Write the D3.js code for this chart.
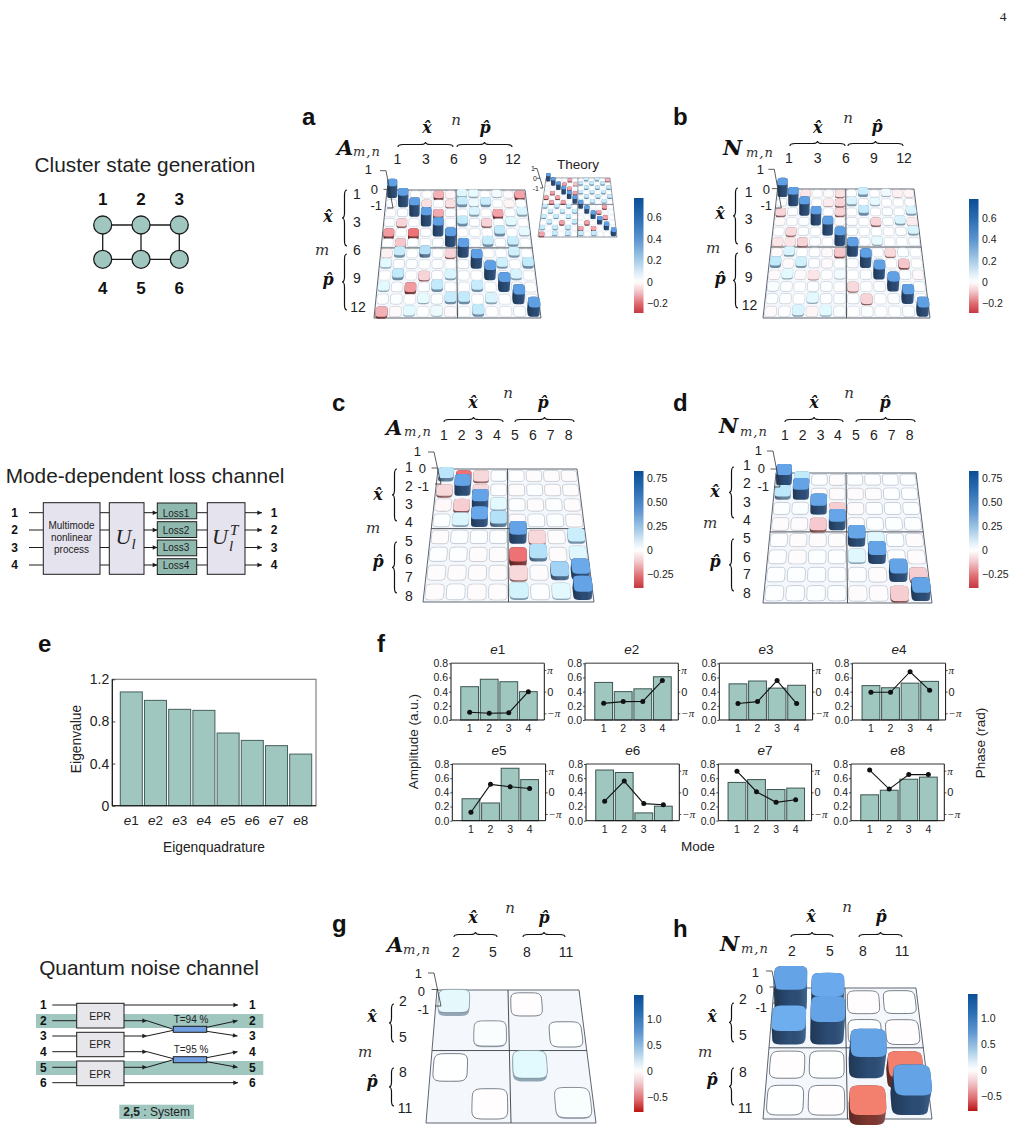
<!DOCTYPE html>
<html><head><meta charset="utf-8">
<script src="https://cdn.jsdelivr.net/npm/d3@7"></script>
<style>
html,body{margin:0;padding:0;background:#fff}
svg{display:block}
text{font-family:"Liberation Sans",Arial,sans-serif;fill:#222}
</style></head><body><svg id="fig" width="1014" height="1132"></svg>
<script>
// ---------- matrix elements (rows m, columns n) ----------
const matA12 = [
 [.6,.01,0,0,-.13,-.02,.09,.07,0,.05,-.01,-.15],
 [.01,.6,.01,-.06,0,-.06,.14,.06,.13,0,-.02,.01],
 [0,.01,.6,0,-.14,.01,0,.1,0,-.15,.01,.1],
 [.01,-.08,0,.6,-.01,0,.15,.01,-.08,0,.08,0],
 [-.16,0,-.22,.01,.6,.01,0,0,0,.15,0,.07],
 [0,-.1,.01,0,.01,.6,0,0,.14,.01,.13,0],
 [-.03,.14,0,.19,0,-.08,.6,.02,0,0,.12,0],
 [.08,.01,.01,0,.01,0,.01,.6,.01,.12,0,.15],
 [0,.15,0,-.08,.01,.1,0,0,.6,.01,.1,0],
 [.08,.01,-.16,.01,.15,.01,0,.14,0,.6,.01,0],
 [.01,.01,0,.07,.01,.14,.15,0,.1,0,.6,0],
 [-.13,-.01,.08,0,.06,-.01,0,.15,0,0,.01,.6]];
const matTheory = [
 [.6,0,0,0,-.15,0,0,.14,0,.14,0,-.12],
 [0,.6,0,-.15,0,-.1,.14,0,.14,0,.14,0],
 [0,0,.6,0,-.15,0,0,.14,0,.14,0,.14],
 [0,-.15,0,.6,0,-.15,.14,0,.14,0,.14,0],
 [-.15,0,-.15,0,.6,0,0,.14,0,.14,0,.14],
 [0,-.15,0,-.15,0,.6,.14,0,.14,0,.14,0],
 [.14,0,.14,0,.14,0,.6,0,0,0,-.15,0],
 [0,.14,0,.14,0,.14,0,.6,0,-.15,0,0],
 [.14,0,.14,0,.14,0,0,0,.6,0,-.15,0],
 [0,.14,0,-.15,0,.14,0,-.15,0,.6,0,0],
 [.14,0,.14,0,.14,0,-.15,0,-.15,0,.6,0],
 [-.15,0,.14,0,.14,0,.14,0,.14,0,0,.6]];
const matN12 = [
 [.6,.01,-.05,0,-.01,-.06,.01,.13,0,.05,-.03,-.02],
 [.01,.6,0,0,-.04,-.08,.1,.01,.07,0,0,.01],
 [-.08,.01,.6,0,.01,-.08,0,.15,0,.01,0,.1],
 [-.01,0,.01,.6,0,-.01,.01,0,-.08,.01,.1,-.04],
 [0,-.07,.01,0,.6,0,.01,0,0,0,.01,.1],
 [-.05,-.05,-.08,.01,0,.6,0,.01,.07,0,0,.01],
 [-.01,.1,0,.01,-.01,-.1,.6,0,0,-.07,.01,0],
 [.15,-.01,.12,.01,-.01,0,.01,.6,.01,0,-.1,0],
 [-.01,.08,-.01,-.05,0,.05,0,.01,.6,0,.01,-.01],
 [.03,.01,0,.01,.01,0,-.07,0,.01,.6,0,.01],
 [.01,.01,0,.08,.01,.01,.01,-.08,0,.01,.6,0],
 [-.01,.01,.1,-.02,.08,.01,0,.01,0,0,.01,.6]];
const matA8 = [
 [.18,-.3,-.1,.01,0,-.01,-.01,-.01],
 [-.1,.55,-.1,.01,-.01,.01,-.01,-.01],
 [-.02,-.12,.55,.08,.01,-.01,.01,-.01],
 [.01,.1,.45,.2,-.01,.01,.01,-.01],
 [-.01,.01,.01,.01,.55,-.1,-.01,.14],
 [.01,.01,-.01,-.01,-.3,.2,-.01,.09],
 [-.01,-.01,-.01,-.01,-.1,-.01,.25,.42],
 [-.01,.01,-.01,-.01,.12,.01,.08,.55]];
const matN8 = [
 [.55,.16,.01,-.01,.01,.01,.01,.01],
 [.17,.55,-.01,-.01,-.01,-.01,.01,.01],
 [.01,.02,.5,-.12,-.01,.01,.01,.01],
 [-.01,-.01,-.13,.5,-.01,.01,.01,.01],
 [.01,-.01,-.01,-.01,.5,.09,.01,-.01],
 [.01,-.01,.01,.01,.09,.55,.01,-.01],
 [.01,.01,.01,.01,.01,-.01,.55,-.12],
 [.01,.01,.01,.01,-.01,-.01,-.12,.55]];
const matA4 = [
 [.14,null,-.01,null],
 [null,.05,null,.01],
 [.01,null,.15,null],
 [null,-.01,null,.06]];
const matN4 = [
 [1.0,.72,-.01,.005],
 [.6,1.0,.005,-.01],
 [-.01,.005,1.0,-.5],
 [.005,-.01,-.5,1.0]];

// ---------- eigenvalues and eigenvectors ----------
const eigenNames = ["e1","e2","e3","e4","e5","e6","e7","e8"];
const eigenValues = [1.08,1.0,.915,.905,.69,.62,.57,.49];
const modes = [1,2,3,4];
const amp = {
 e1:[.47,.575,.54,.40], e2:[.53,.40,.44,.61], e3:[.51,.55,.45,.49], e4:[.485,.455,.52,.545],
 e5:[.31,.25,.74,.58], e6:[.715,.68,.11,.205], e7:[.54,.58,.44,.46], e8:[.365,.43,.585,.615]};
// phase in units of pi
const phase = {
 e1:[-.95,-1,-.98,0], e2:[-.54,-.46,-.45,.51], e3:[-.55,-.46,.51,-.55], e4:[-.03,-.03,.92,.06],
 e5:[-.92,.37,.26,.18], e6:[-.41,.52,-.52,-.57], e7:[.98,.03,-.46,-.34], e8:[1.03,.15,.82,.82]};

const svg = d3.select("#fig");
const SANS = '"Liberation Sans",Arial,sans-serif', SERIF = '"Liberation Serif",serif', MATH = '"DejaVu Serif",serif';

function label(x,y,s,o={}){
  const t = svg.append("text").attr("x",x).attr("y",y).text(s)
    .attr("font-size",o.size||13).attr("text-anchor",o.anchor||"middle")
    .style("font-family",o.family||SANS).style("font-weight",o.weight||"normal")
    .style("font-style",o.style||"normal").style("fill",o.fill||"#222");
  if(o.rot) t.attr("transform",`rotate(${o.rot} ${x} ${y})`);
  if(o.ls) t.style("letter-spacing",o.ls);
  return t;
}
const TEAL = "#9fc6bf", INK = "#1c1c1c";

// shading for the bar sides, dark on the left
const defs = svg.append("defs");
const sg = defs.append("linearGradient").attr("id","sideShade");
sg.append("stop").attr("offset","0").attr("stop-color","#000").attr("stop-opacity",.28);
sg.append("stop").attr("offset","0.55").attr("stop-color","#000").attr("stop-opacity",0);
sg.append("stop").attr("offset","1").attr("stop-color","#9fd0ff").attr("stop-opacity",.2);

// colours of the bar tops, by value relative to the colour bar limits
const capPos = d3.scaleLinear().domain([0,.05,.1,.2,.3,.4,.78,1])
  .range(["#ffffff","#f6fcfe","#e3f9fd","#bfe9fb","#a5d5f4","#6eaeef","#5f9fe3","#3a80cf"]).clamp(true);
const capNeg = d3.scaleLinear().domain([0,.15,.3,.5,.65,.8,1])
  .range(["#ffffff","#fbeaec","#f6d0d4","#f2a6ac","#f08489","#ed6d70","#d84046"]).clamp(true);
const capColor = (v,p)=> v>=0 ? capPos(v/p.cmax)
  : (p.warm && v/p.cmin>.4 ? d3.interpolateRgb(capNeg(v/p.cmin),"#f47f68")(.85) : capNeg(v/p.cmin));

function drawMatrix(p){
  const n = p.data.length;
  const w = (p.br[0]-p.bl[0])/(p.tr[0]-p.tl[0]);
  const col = d3.scaleLinear().domain([0,n]).range([0,1]);
  const row = d3.scaleLinear().domain([0,n]).range([0,1]);
  const fy = t=> t/(t+(1-t)*w);
  const zs = d3.scaleLinear().domain([0,1]).range([0,p.zs]);
  const project = (u,t,z=0)=>{
    const f = fy(t);
    const L = p.tl[0]+(p.bl[0]-p.tl[0])*f, R = p.tr[0]+(p.br[0]-p.tr[0])*f;
    const h = zs(z)*(1-.22*f);
    return [L+(R-L)*u + h*p.skew*(u-.2), p.tl[1]+(p.bl[1]-p.tl[1])*f - h];
  };
  const outline = (i,j,z)=>{
    const pts = [], e = 2/(p.round||4.5);
    for(let k=0;k<40;k++){
      const a = k/40*2*Math.PI, c = Math.cos(a), s = Math.sin(a);
      const du = Math.sign(c)*Math.pow(Math.abs(c),e)*p.uf/2, dv = Math.sign(s)*Math.pow(Math.abs(s),e)*p.vf/2;
      pts.push(project(col(j+.5+du),row(i+.5+dv),z));
    }
    return pts;
  };
  const closed = d3.line().curve(d3.curveLinearClosed);
  const g = svg.append("g");
  g.append("path").attr("d",closed([project(0,0),project(1,0),project(1,1),project(0,1)]))
    .attr("fill","#f4f7fb").attr("stroke","#4d5560").attr("stroke-width",p.edge||.9);
  [[[.5,0],[.5,1]],[[0,.5],[1,.5]]].forEach(s=>g.append("line")
    .attr("x1",project(...s[0])[0]).attr("y1",project(...s[0])[1])
    .attr("x2",project(...s[1])[0]).attr("y2",project(...s[1])[1])
    .attr("stroke","#3a3f46").attr("stroke-width",p.edge||.9));
  p.data.forEach((rowVals,i)=>rowVals.forEach((v,j)=>{
    if(v===null) return;
    const cap = capColor(v,p);
    const zTop = Math.max(v,0), zBot = Math.min(v,0);
    const r = v>=0 ? v/p.cmax : v/p.cmin;
    if(zTop-zBot>.004){
      const hull = closed(d3.polygonHull(outline(i,j,zTop).concat(outline(i,j,zBot))));
      const side = d3.interpolateRgb(cap, v>=0?"#1a3050":"#5a1f1a")(Math.min(.75,.3+r*1.1));
      g.append("path").attr("d",hull).attr("fill",side);
      if(r>.2) g.append("path").attr("d",hull).attr("fill","url(#sideShade)");
    }
    g.append("path").attr("d",closed(outline(i,j,zTop))).attr("fill",cap)
      .attr("stroke",p.strokeC||"#93a6b8").attr("stroke-width",p.cellStroke||.6)
      .attr("stroke-opacity",Math.max(0,(p.strokeOp||.5)-r*4));
  }));

  // vertical value axis at the back left corner
  const z = p.zAxis, zy = d3.scaleLinear().domain([1,-1]).range([z[1],z[3]]), zx = d3.scaleLinear().domain([1,-1]).range([z[0],z[2]]);
  const ag = svg.append("g").attr("stroke","#333").attr("stroke-width",.8);
  ag.append("line").attr("x1",z[0]).attr("y1",z[1]).attr("x2",z[2]).attr("y2",z[3]);
  [1,0,-1].forEach(t=>ag.append("line").attr("x1",zx(t)-z[4]).attr("y1",zy(t)).attr("x2",zx(t)).attr("y2",zy(t)));
  [1,0,-1].forEach((t,k)=>label(p.zLab[k][0],p.zLab[k][1],t<0?"-1":String(t),{size:p.zFont||13,anchor:"end"}));
}

function braceH(x1,x2,y,h=5){
  const c=(x1+x2)/2,m=y+h/2;
  svg.append("path").attr("fill","none").attr("stroke","#111").attr("stroke-width",1.2)
   .attr("d",`M${x1} ${y+h}Q${x1} ${m} ${x1+h} ${m}L${c-h} ${m}Q${c} ${m} ${c} ${y}Q${c} ${m} ${c+h} ${m}L${x2-h} ${m}Q${x2} ${m} ${x2} ${y+h}`);
}
function braceV(x,y1,y2,h=5){
  const c=(y1+y2)/2,m=x+h/2;
  svg.append("path").attr("fill","none").attr("stroke","#111").attr("stroke-width",1.2)
   .attr("d",`M${x+h} ${y1}Q${m} ${y1} ${m} ${y1+h}L${m} ${c-h}Q${m} ${c} ${x} ${c}Q${m} ${c} ${m} ${c+h}L${m} ${y2-h}Q${m} ${y2} ${x+h} ${y2}`);
}
const math = (x,y,s,size=16)=>label(x,y,s,{family:MATH,size,style:"italic",weight:"bold",fill:"#111"});

function drawDecor(p){
  label(p.tag[0],p.tag[1],p.tag[2],{size:24,anchor:"start",weight:"bold",fill:"#111"});
  label(p.sym[0],p.sym[1],p.sym[2],{family:MATH,size:21,style:"italic",weight:"bold",anchor:"start",fill:"#111"});
  label(p.sub[0],p.sub[1],"m,n",{family:MATH,size:13,style:"italic",anchor:"start",ls:"1px",fill:"#333"});
  p.colTicks.forEach(t=>label(t[0],p.colY,t[1],{size:14}));
  p.rowTicks.forEach(t=>label(t[1],t[2],t[0],{size:14}));
  p.bh.forEach(b=>braceH(b[0],b[1],p.bhY));
  p.bv.forEach(b=>braceV(p.bvX,b[0],b[1]));
  math(p.hx[0],p.hx[1],"x\u0302"); math(p.hp[0],p.hp[1],"p\u0302");
  math(p.hx2[0],p.hx2[1],"x\u0302"); math(p.hp2[0],p.hp2[1],"p\u0302");
  label(p.nm[0],p.nm[1],"n",{family:MATH,size:15,style:"italic",fill:"#333"});
  label(p.mm[0],p.mm[1],"m",{family:MATH,size:15,style:"italic",fill:"#333"});
}

// colour bar ramp, value relative to the limits
const barPos = d3.scaleLinear().domain([0,.1,.25,.5,.75,1]).range(["#ffffff","#dfeef7","#a9cde8","#5e96d0","#2c6fb4","#0c4e96"]);
function drawColorbar(c){
  const y = d3.scaleLinear().domain(c.domain).range([c.y1,c.y0]);
  const id = c.id;
  const lg = defs.append("linearGradient").attr("id",id).attr("x1",0).attr("y1",1).attr("x2",0).attr("y2",0);
  const negRamp = d3.scaleLinear().domain([0,.3,.7,1]).range(["#ffffff","#f2c9cc","#df6a6f",c.neg]);
  const total = c.domain[1]-c.domain[0];
  d3.range(0,1.0001,.02).forEach(f=>{
    const v = c.domain[0]+f*total;
    lg.append("stop").attr("offset",f).attr("stop-color", v>=0 ? barPos(v/c.domain[1]) : negRamp(v/c.domain[0]));
  });
  svg.append("rect").attr("x",c.x).attr("y",c.y0).attr("width",9.5).attr("height",c.y1-c.y0).attr("fill",`url(#${id})`);
  c.ticks.forEach(t=>label(c.x+(c.lab||13),y(t)+3.8,c.fmt(t),{size:10.5,anchor:"start"}));
}
const fmt1 = t=> t===0?"0":(t<0?"\u2212":"")+d3.format(".1f")(Math.abs(t));
const fmt2 = t=> t===0?"0":(t<0?"\u2212":"")+d3.format(".2f")(Math.abs(t));

const panels = [
 {data:matA12,tl:[387,190],tr:[525,190],br:[541,318],bl:[374,318],zs:20,skew:.12,uf:.86,vf:.82,round:4,cmax:.78,cmin:-.29,strokeOp:.45,
  zAxis:[386,170.7,393,208,6],zLab:[[372,174],[378,194],[382,210]],
  tag:[302,125,"a"],sym:[337,155,"A"],sub:[353,156],colY:164,
  colTicks:[[397.5,"1"],[426,"3"],[454,"6"],[483,"9"],[513,"12"]],
  rowTicks:[["1",357,199],["3",357,227],["6",357,255],["9",357,283],["12",358,312]],
  bh:[[398,453],[457,512]],bhY:142,bvX:342,bv:[[190,246],[254,310]],
  hx:[427,133],hp:[485,133],hx2:[328,222],hp2:[328,285],nm:[456,125],mm:[322,255]},
 {data:matN12,tl:[777.5,189],tr:[914,189],br:[930,318],bl:[763,318],zs:20,skew:.12,uf:.86,vf:.82,round:4,cmax:.78,cmin:-.29,strokeOp:.45,
  zAxis:[774.3,169.3,781.3,208,6],zLab:[[764,174],[770,194],[772,210]],
  tag:[673,125,"b"],sym:[723,155,"N"],sub:[746,157],colY:163,
  colTicks:[[789,"1"],[817.7,"3"],[846,"6"],[874,"9"],[904,"12"]],
  rowTicks:[["1",748.7,197],["3",748.7,224],["6",748.7,253],["9",748.7,282],["12",749.5,310]],
  bh:[[790,845],[848,903]],bhY:141,bvX:733,bv:[[188,244],[253,308]],
  hx:[817.7,133],hp:[877,132],hx2:[720,219],hp2:[720,284],nm:[848,123],mm:[713,253]},
 {data:matA8,tl:[438,469],tr:[577,469],br:[594,602],bl:[423,602],zs:19,skew:.12,uf:.88,vf:.8,round:5,cmax:.82,cmin:-.39,strokeOp:.7,
  zAxis:[434,452,441,484,6],zLab:[[421,456],[426,473],[429,491]],
  tag:[332,411,"c"],sym:[386,435,"A"],sub:[404,436],colY:440,
  colTicks:[[444,"1"],[461.7,"2"],[479,"3"],[497,"4"],[515,"5"],[533,"6"],[550.7,"7"],[568.7,"8"]],
  rowTicks:[["1",409,472],["2",409,491],["3",409,509],["4",409,527],["5",409,546],["6",409,564],["7",409,582],["8",409,601]],
  bh:[[444,503],[515,574]],bhY:417,bvX:392,bv:[[469,521],[542,593]],
  hx:[473,408],hp:[543,408],hx2:[378,500],hp2:[378,567],nm:[508,398],mm:[373,533]},
 {data:matN8,tl:[776,473],tr:[916,473],br:[932,603],bl:[763,603],zs:19,skew:.12,uf:.88,vf:.8,round:5,cmax:.82,cmin:-.39,strokeOp:.7,
  zAxis:[773,451,780,487,6],zLab:[[762,455],[765,473],[769,491]],
  tag:[673,411,"d"],sym:[719,433,"N"],sub:[740,436],colY:440,
  colTicks:[[785,"1"],[802.7,"2"],[820.7,"3"],[838,"4"],[856,"5"],[874,"6"],[891.7,"7"],[909.7,"8"]],
  rowTicks:[["1",747,470],["2",747,488],["3",747,507],["4",747,525],["5",747,543],["6",747,562],["7",747,579],["8",747,598]],
  bh:[[785,843],[856,915]],bhY:417,bvX:729,bv:[[467,518],[539,591]],
  hx:[814,408],hp:[885,408],hx2:[715,497],hp2:[715,567],nm:[849,398],mm:[710,528]},
 {data:matA4,tl:[437,990],tr:[579,990],br:[596,1123],bl:[426,1123],zs:25,skew:.25,uf:.86,vf:.8,round:5,cmax:1.46,cmin:-.79,strokeC:"#59636e",strokeOp:1,cellStroke:.8,
  zAxis:[434,973,441,1006,6],zLab:[[422,978],[425,996],[429,1014]],
  tag:[332,932,"g"],sym:[387,952,"A"],sub:[403,954],colY:957,
  colTicks:[[456,"2"],[493,"5"],[527,"8"],[566,"11"]],
  rowTicks:[["2",403,1006],["5",403,1042],["8",403,1077],["11",405,1113]],
  bh:[[454,497],[523,565]],bhY:932,bvX:389,bv:[[1004,1042],[1068,1106]],
  hx:[473,923],hp:[544,923],hx2:[372,1022],hp2:[372,1087],nm:[510,913],mm:[365,1057]},
 {data:matN4,tl:[774,988],tr:[916,988],br:[932,1119],bl:[763,1119],zs:25,skew:.25,uf:.88,vf:.8,round:5,cmax:1.46,cmin:-.79,strokeC:"#59636e",strokeOp:1,cellStroke:.8,warm:true,
  zAxis:[772,971,779,1003,6],zLab:[[759,977],[763,994],[767,1012]],
  tag:[673,937,"h"],sym:[720,951,"N"],sub:[741,953],colY:956,
  colTicks:[[792,"2"],[830,"5"],[863,"8"],[902,"11"]],
  rowTicks:[["2",743,1004],["5",743,1040],["8",743,1077],["11",745,1113]],
  bh:[[791,833],[859,902]],bhY:932,bvX:729,bv:[[1003,1042],[1068,1105]],
  hx:[811,922],hp:[881,922],hx2:[712,1022],hp2:[712,1085],nm:[847,912],mm:[705,1057]}
];
panels.forEach(p=>{ drawMatrix(p); drawDecor(p); });

// smaller ideal matrix beside panel a
drawMatrix({data:matTheory,tl:[546,178],tr:[610,178],br:[617,237],bl:[538,237],zs:9,skew:.1,uf:.8,vf:.74,round:4,cmax:.78,cmin:-.29,edge:.6,cellStroke:.3,strokeOp:.3,
  zAxis:[537,168.5,543,188,3],zLab:[[535,171],[537,181],[539,191]],zFont:7});
label(578,169,"Theory",{size:13.5});

[{id:"cbA",x:634,y0:198,y1:313,domain:[-.29,.78],ticks:[.6,.4,.2,0,-.2],fmt:fmt1,neg:"#c5383f"},
 {id:"cbB",x:969,y0:199,y1:313,domain:[-.29,.78],ticks:[.6,.4,.2,0,-.2],fmt:fmt1,neg:"#c5383f"},
 {id:"cbC",x:634,y0:471,y1:588,domain:[-.39,.82],ticks:[.75,.5,.25,0,-.25],fmt:fmt2,neg:"#c5383f"},
 {id:"cbD",x:969,y0:471,y1:588,domain:[-.39,.82],ticks:[.75,.5,.25,0,-.25],fmt:fmt2,neg:"#c5383f"},
 {id:"cbG",x:634,y0:995,y1:1112,domain:[-.79,1.46],ticks:[1,.5,0,-.5],fmt:fmt1,neg:"#b81510"},
 {id:"cbH",x:968,y0:994,y1:1111,domain:[-.79,1.46],ticks:[1,.5,0,-.5],fmt:fmt1,neg:"#b81510"}
].forEach(drawColorbar);

// ---------- cluster state graph ----------
const nodeNames = ["1","2","3","4","5","6"];
const graphEdges = [[0,1],[1,2],[3,4],[4,5],[0,3],[1,4],[2,5]];
const nodeX = d3.scalePoint().domain([0,1,2]).range([102.7,179.3]);
const nodeY = d3.scalePoint().domain([0,1]).range([225,259.3]);
const nodePos = i=>[nodeX(i%3),nodeY(Math.floor(i/3))];
label(145,171.5,"Cluster state generation",{size:20.8});
graphEdges.forEach(e=>svg.append("line").attr("x1",nodePos(e[0])[0]).attr("y1",nodePos(e[0])[1]).attr("x2",nodePos(e[1])[0]).attr("y2",nodePos(e[1])[1]).attr("stroke",INK).attr("stroke-width",1.3));
nodeNames.forEach((s,i)=>{
  const q=nodePos(i);
  svg.append("circle").attr("cx",q[0]).attr("cy",q[1]).attr("r",9).attr("fill",TEAL).attr("stroke",INK).attr("stroke-width",1.3);
  label(q[0],i<3?205:294,s,{size:17,weight:"bold",fill:"#111"});
});

// arrowheads
const arrow = (x1,y1,x2,y2,head=true,sw=1)=>{
  svg.append("line").attr("x1",x1).attr("y1",y1).attr("x2",x2).attr("y2",y2).attr("stroke",INK).attr("stroke-width",sw);
  if(head){
    const a=Math.atan2(y2-y1,x2-x1),L=4.6,W=2.2;
    const px=x2+0, py=y2+0;
    svg.append("path").attr("fill",INK).attr("d",`M${px} ${py}L${px-L*Math.cos(a)+W*Math.sin(a)} ${py-L*Math.sin(a)-W*Math.cos(a)}L${px-L*Math.cos(a)-W*Math.sin(a)} ${py-L*Math.sin(a)+W*Math.cos(a)}Z`);
  }
};
const box = (x,y,w,h,fill)=>svg.append("rect").attr("x",x).attr("y",y).attr("width",w).attr("height",h).attr("fill",fill).attr("stroke",INK).attr("stroke-width",1);

// ---------- mode-dependent loss channel ----------
const lossLabels = ["Loss1","Loss2","Loss3","Loss4"];
const channelY = [512.7,530,547.5,565];
label(145,482.7,"Mode-dependent loss channel",{size:20.8});
channelY.forEach((y,i)=>{
  label(14.7,y+4.3,String(i+1),{size:12,weight:"bold",fill:"#111"});
  label(274,y+4.3,String(i+1),{size:12,weight:"bold",fill:"#111"});
  arrow(29,y,43,y,false);
  arrow(100,y,109.3,y,false);
  arrow(144,y,157.3,y);
  arrow(196.7,y,207.3,y,false);
  arrow(245,y,262,y);
});
box(43.3,502.7,56.7,71.6,"#e5e3ee");
box(109.3,502.7,34.7,71.6,"#e5e3ee");
box(207.3,502.7,37.7,71.6,"#e5e3ee");
["Multimode","nonlinear","process"].forEach((s,i)=>label(71.5,[529,541,553][i],s,{size:10}));
lossLabels.forEach((s,i)=>{ box(157.3,[503,521.7,540,558.7][i],39.4,15.8,"#8fb9af"); label(176,channelY[i]+3.8,s,{size:10}); });
label(115.5,544,"U",{family:SERIF,style:"italic",size:22,anchor:"start"});
label(131.5,548.5,"l",{family:SERIF,style:"italic",size:15,anchor:"start"});
label(212,544,"U",{family:SERIF,style:"italic",size:22,anchor:"start"});
label(229,551,"l",{family:SERIF,style:"italic",size:15,anchor:"start"});
label(230,534.5,"T",{family:SERIF,style:"italic",size:15,anchor:"start"});

// ---------- eigenvalue spectrum ----------
const eSpan = {x0:112.3,x1:316,y0:805.7,y1:679.3};
const ex = d3.scaleBand().domain(eigenNames).range([119.2,312.8]).paddingInner(.09).paddingOuter(.045);
const ey = d3.scaleLinear().domain([0,1.2]).range([eSpan.y0,eSpan.y1]);
function axisStyle(g,size){
  g.select(".domain").remove();
  g.selectAll("line").attr("stroke","#222").attr("stroke-width",.8);
  g.selectAll("text").style("font-size",size+"px").style("fill","#222");
}
svg.append("rect").attr("x",eSpan.x0).attr("y",eSpan.y1).attr("width",eSpan.x1-eSpan.x0).attr("height",eSpan.y0-eSpan.y1).attr("fill","none").attr("stroke","#777").attr("stroke-width",1.1);
svg.selectAll(".ebar").data(eigenNames).join("rect").attr("x",d=>ex(d)).attr("width",ex.bandwidth())
  .attr("y",(d,i)=>ey(eigenValues[i])).attr("height",(d,i)=>ey(0)-ey(eigenValues[i]))
  .attr("fill",TEAL).attr("stroke","#46605c").attr("stroke-width",1);
svg.append("line").attr("x1",eSpan.x0).attr("x2",eSpan.x1).attr("y1",eSpan.y0).attr("y2",eSpan.y0).attr("stroke","#111").attr("stroke-width",1.1);
svg.append("line").attr("x1",eSpan.x0).attr("x2",eSpan.x0).attr("y1",eSpan.y0).attr("y2",eSpan.y1).attr("stroke","#111").attr("stroke-width",1.1);
svg.append("g").attr("transform",`translate(${eSpan.x0},0)`)
  .call(d3.axisLeft(ey).tickValues([0,.4,.8,1.2]).tickFormat(d=>d===0?"0":d3.format(".1f")(d)).tickSize(-3).tickPadding(3))
  .call(g=>axisStyle(g,14));
eigenNames.forEach(d=>{
  const t=label(ex(d)+ex.bandwidth()/2,825,"",{size:13.5});
  t.append("tspan").style("font-style","italic").text("e");
  t.append("tspan").text(d.slice(1));
});
label(214,851.5,"Eigenquadrature",{size:13.8});
label(81,739,"Eigenvalue",{size:13.8,rot:-90});
label(38,651.7,"e",{size:24,anchor:"start",weight:"bold",fill:"#111"});

// ---------- eigenvector panels ----------
const subPlots = [
 {k:"e1",x:451,y:663.3},{k:"e2",x:585,y:663.3},{k:"e3",x:719.3,y:663.3},{k:"e4",x:852.3,y:663.3},
 {k:"e5",x:452.3,y:764},{k:"e6",x:586,y:764},{k:"e7",x:718.3,y:764},{k:"e8",x:851,y:764}];
const subW = 93.3, subH = 56.7;
const mx = d3.scaleBand().domain(modes).range([8,88]).padding(.09);
const my = d3.scaleLinear().domain([0,.8]).range([subH,0]);
const ph = d3.scaleLinear().domain([-1,1]).range([50,6.7]);
subPlots.forEach(s=>{
  const g = svg.append("g").attr("transform",`translate(${s.x},${s.y})`);
  g.append("line").attr("x1",0).attr("x2",subW).attr("y1",0).attr("y2",0).attr("stroke","#777").attr("stroke-width",1.4);
  g.selectAll(".b").data(modes).join("rect").attr("x",d=>mx(d)).attr("width",mx.bandwidth())
    .attr("y",(d,i)=>my(amp[s.k][i])).attr("height",(d,i)=>subH-my(amp[s.k][i]))
    .attr("fill",TEAL).attr("stroke","#3c5450").attr("stroke-width",1);
  g.append("line").attr("x1",0).attr("x2",subW).attr("y1",subH).attr("y2",subH).attr("stroke","#111").attr("stroke-width",1);
  g.append("line").attr("x1",0).attr("x2",0).attr("y1",0).attr("y2",subH).attr("stroke","#111").attr("stroke-width",1);
  g.append("line").attr("x1",subW).attr("x2",subW).attr("y1",0).attr("y2",subH).attr("stroke","#111").attr("stroke-width",1);
  g.append("g").call(d3.axisLeft(my).tickValues([0,.2,.4,.6,.8]).tickFormat(d3.format(".1f")).tickSize(2).tickPadding(1)).call(a=>axisStyle(a,10.5));
  g.append("g").attr("transform",`translate(0,${subH})`).call(d3.axisBottom(mx).tickSize(0).tickPadding(5)).call(a=>axisStyle(a,10.5));
  const ra = g.append("g").attr("transform",`translate(${subW},0)`).call(d3.axisRight(ph).tickValues([-1,0,1]).tickFormat(d=>d===0?"0":d<0?"\u2212\u03c0":"\u03c0").tickSize(2).tickPadding(1)).call(a=>axisStyle(a,11));
  ra.selectAll("text").filter(d=>d!==0).style("font-family",SERIF).style("font-style","italic");
  const pts = modes.map((d,i)=>[mx(d)+mx.bandwidth()/2,ph(phase[s.k][i])]);
  g.append("path").attr("d",d3.line()(pts)).attr("fill","none").attr("stroke","#111").attr("stroke-width",1.1);
  g.selectAll(".p").data(pts).join("circle").attr("cx",d=>d[0]).attr("cy",d=>d[1]).attr("r",2.5).attr("fill","#111");
  const t = label(s.x+subW/2,s.y-9.5,"",{size:13.5});
  t.append("tspan").style("font-style","italic").text("e");
  t.append("tspan").text(s.k.slice(1));
});
label(377,651.7,"f",{size:24,anchor:"start",weight:"bold",fill:"#111"});
label(418,741.7,"Amplitude (a.u.)",{size:13.5,rot:-90});
label(985,743,"Phase (rad)",{size:13.5,rot:-90});
label(698,851,"Mode",{size:13.5});

// ---------- quantum noise channel ----------
const laneY = [1005,1020.7,1036,1051.7,1067.3,1082.7];
label(149,975,"Quantum noise channel",{size:20.8});
[[1014,1028],[1061,1075]].forEach(b=>svg.append("rect").attr("x",36).attr("y",b[0]).attr("width",227.3).attr("height",b[1]-b[0]).attr("fill",TEAL));
laneY.forEach((y,i)=>{
  label(43.3,y+4.3,String(i+1),{size:12,weight:"bold",fill:"#111"});
  label(252.3,y+4.3,String(i+1),{size:12,weight:"bold",fill:"#111"});
  arrow(52.3,y,76.7,y,false);
});
arrow(124,laneY[0],238,laneY[0]);
arrow(124,laneY[5],238,laneY[5]);
// mixing pairs around the beam splitters
[[1,2,1026.3,1032.3,"T=94 %",1022.7],[3,4,1056.7,1062.7,"T=95 %",1053.3]].forEach(m=>{
  const [a,b,t,u,txt,ty]=m, ya=laneY[a], yb=laneY[b];
  arrow(124,ya,147,ya); arrow(124,yb,147,yb);
  arrow(147,ya,173.3,t+(a===1?3:2),false); arrow(147,yb,173.3,u-(a===1?2:3),false);
  arrow(206.7,t+1,237.5,ya); arrow(206.7,u-1,237.5,yb);
  svg.append("rect").attr("x",173.3).attr("y",t).attr("width",33.4).attr("height",u-t).attr("fill","#6f9fe0").attr("stroke",INK).attr("stroke-width",1);
  label(191,ty,txt,{size:10});
});
[[1003.3,1028,1016],[1032.3,1056.7,1044.3],[1061,1085.7,1074]].forEach(b=>{
  box(76.7,b[0],47.3,b[1]-b[0],"#e7e6ea");
  label(100,b[2]+3.5,"EPR",{size:10.5});
});
svg.append("rect").attr("x",119.3).attr("y",1104.7).attr("width",74.7).attr("height",14.3).attr("fill",TEAL);
const sys = label(156.6,1116,"",{size:12});
sys.append("tspan").style("font-weight","bold").text("2,5");
sys.append("tspan").text(" : System");

label(1003,21,"4",{family:SERIF,size:13.5});
</script></body></html>
